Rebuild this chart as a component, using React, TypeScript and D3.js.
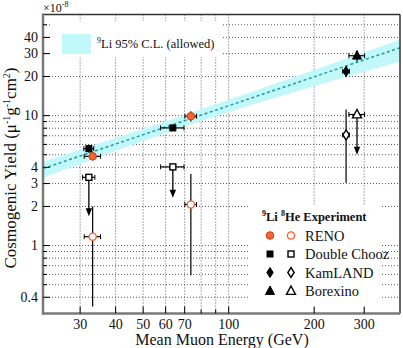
import React from 'react';
import * as d3 from 'd3';

// experiments, in legend order
const experiments = ['RENO', 'Double Chooz', 'KamLAND', 'Borexino'];

// 9Li yield points (x 1e-8 mu^-1 g^-1 cm^2)
const li9Exp = ['RENO', 'RENO', 'Double Chooz', 'Double Chooz', 'KamLAND', 'Borexino'];
const li9Energy = [33.2, 73.6, 32.2, 63.6, 259, 283];
const li9EnergyErr = [2.2, 3.5, 1.3, 6.0, 7, 18];
const li9Yield = [4.86, 9.9, 5.57, 8.04, 21.9, 28.9];
const li9YieldErr = [0.34, 0.9, 0.4, 0.45, 2.2, 2.8];

// 8He yield points, some are upper limits (arrow down to limitTip)
const he8Exp = ['RENO', 'RENO', 'Double Chooz', 'Double Chooz', 'KamLAND', 'Borexino'];
const he8Energy = [33.2, 73.6, 32.2, 63.6, 259, 283];
const he8EnergyErr = [2.2, 3.5, 1.6, 6.0, 7, 18];
const he8Yield = [1.17, 2.07, 3.35, 4.03, 7.1, 10.2];
const he8YieldErr = [0.83, 1.48, 0, 0, 4.05, 0];
const he8LimitTip = [null, null, 1.68, 2.33, null, 5.0];

// 9Li 95% C.L. band
const bandEnergy = [22.2, 65, 401];
const bandCenter = [3.91, 8.66, 33.3];
const bandLow = [3.33, 7.8, 26.1];
const bandHigh = [4.42, 9.6, 38.5];

// ticks
const xLabels = [30, 40, 50, 60, 70, 100, 200, 300];
const xGrid = [30, 40, 50, 60, 70, 80, 90, 100, 200, 300];
const yLabels = [0.4, 1, 2, 3, 4, 10, 20, 30, 40];
const yGrid = [0.4, 0.5, 0.6, 0.7, 0.8, 0.9, 1, 2, 3, 4, 5, 6, 7, 8, 9, 10, 20, 30, 40, 50];

const ORANGE = '#f26430';
const CYAN = '#c3f8fb';
const TEAL = '#1a9ea3';
const FONT = '"Liberation Serif", "DejaVu Serif", serif';

const left = 43, right = 400, top = 14.5, bottom = 313.5;

const marker = (exp, filled) => {
  const fill = filled ? (exp === 'RENO' ? ORANGE : '#000') : '#fff';
  const stroke = exp === 'RENO' ? (filled ? '#d04010' : ORANGE) : '#000';
  const sw = filled ? 1 : 1.4;
  if (exp === 'RENO') return <circle r={filled ? 3.8 : 3.6} fill={fill} stroke={stroke} strokeWidth={sw} />;
  if (exp === 'Double Chooz') return <rect x={-3} y={-3} width={6} height={6} fill={fill} stroke={stroke} strokeWidth={sw} />;
  if (exp === 'KamLAND') return <path d="M0,-5L3.2,0L0,5L-3.2,0Z" fill={fill} stroke={stroke} strokeWidth={sw} />;
  return <path d="M0,-5L4.5,3.4L-4.5,3.4Z" fill={fill} stroke={stroke} strokeWidth={sw} />;
};

const App = () => {
  const x = d3.scaleLog().domain([22.2, 401]).range([left, right]);
  const y = d3.scaleLog().domain([0.3, 60]).range([bottom, top]);

  const bandPts = bandEnergy.map((e, i) => ({ e, lo: bandLow[i], hi: bandHigh[i], c: bandCenter[i] }));
  const area = d3.area().x(d => x(d.e)).y0(d => y(d.lo)).y1(d => y(d.hi)).curve(d3.curveMonotoneX);
  const line = d3.line().x(d => x(d.e)).y(d => y(d.c)).curve(d3.curveMonotoneX);

  const errBars = (energy, eErr, val, vErr, i, key) => {
    const cx = x(energy[i]), cy = y(val[i]);
    const x0 = x(energy[i] - eErr[i]), x1 = x(energy[i] + eErr[i]);
    const out = [
      <line key={key + 'h'} x1={x0} x2={x1} y1={cy} y2={cy} stroke="#000" strokeWidth={1.2} />,
      <line key={key + 'hl'} x1={x0} x2={x0} y1={cy - 2.5} y2={cy + 2.5} stroke="#000" strokeWidth={1} />,
      <line key={key + 'hr'} x1={x1} x2={x1} y1={cy - 2.5} y2={cy + 2.5} stroke="#000" strokeWidth={1} />,
    ];
    if (vErr[i] > 0) {
      out.push(<line key={key + 'v'} x1={cx} x2={cx} y1={y(val[i] + vErr[i])} y2={y(val[i] - vErr[i])} stroke="#000" strokeWidth={1.2} />);
    }
    return out;
  };

  return (
    <svg width={403} height={348} style={{ position: 'absolute', left: 0, top: 0, fontFamily: FONT }}>
      <rect width={403} height={348} fill="#fff" />
      {/* grid */}
      {xGrid.map(v => (
        <line key={'gx' + v} x1={x(v)} x2={x(v)} y1={top} y2={bottom} stroke="#333" strokeWidth={0.8} strokeDasharray="1 2" />
      ))}
      {yGrid.map(v => (
        <line key={'gy' + v} x1={left} x2={right} y1={y(v)} y2={y(v)} stroke="#333" strokeWidth={0.8} strokeDasharray="1 2" />
      ))}
      {/* legend backgrounds */}
      <rect x={52} y={21} width={169} height={36} fill="#fff" />
      <rect x={250} y={205} width={132} height={102} fill="#fff" />

      {/* band */}
      <path d={area(bandPts)} fill={CYAN} />
      <path d={line(bandPts)} fill="none" stroke={TEAL} strokeWidth={1.5} strokeDasharray="3 2.5" />

      {/* 8He */}
      {he8Exp.map((exp, i) => {
        const cx = x(he8Energy[i]), cy = y(he8Yield[i]);
        const tip = he8LimitTip[i];
        return (
          <g key={'he' + i}>
            {errBars(he8Energy, he8EnergyErr, he8Yield, he8YieldErr, i, 'he' + i)}
            {tip != null && (
              <g>
                <line x1={cx} x2={cx} y1={cy} y2={y(tip) - 6} stroke="#000" strokeWidth={1.3} />
                <path d={`M${cx - 3.2},${y(tip) - 8}L${cx + 3.2},${y(tip) - 8}L${cx},${y(tip)}Z`} fill="#000" />
              </g>
            )}
            <g transform={`translate(${cx},${cy})`}>{marker(exp, false)}</g>
          </g>
        );
      })}

      {/* 9Li */}
      {li9Exp.map((exp, i) => (
        <g key={'li' + i}>
          {errBars(li9Energy, li9EnergyErr, li9Yield, li9YieldErr, i, 'li' + i)}
          <g transform={`translate(${x(li9Energy[i])},${y(li9Yield[i])})`}>{marker(exp, true)}</g>
        </g>
      ))}

      {/* frame */}
      <line x1={left} x2={right} y1={top} y2={top} stroke="#333" strokeWidth={1.5} />
      <line x1={right} x2={right} y1={top} y2={bottom} stroke="#333" strokeWidth={1.5} />
      <line x1={left} x2={left} y1={top - 1} y2={bottom + 1} stroke="#7a7a7a" strokeWidth={2.5} />
      <line x1={left - 1} x2={right} y1={bottom} y2={bottom} stroke="#7a7a7a" strokeWidth={2.5} />

      {/* ticks */}
      {xGrid.map(v => (
        <line key={'tx' + v} x1={x(v)} x2={x(v)} y1={bottom} y2={bottom - (xLabels.includes(v) ? 7 : 4)} stroke="#000" strokeWidth={1} />
      ))}
      {yGrid.map(v => (
        <line key={'ty' + v} x1={left} x2={left + (yLabels.includes(v) ? 7 : 4)} y1={y(v)} y2={y(v)} stroke="#000" strokeWidth={1} />
      ))}
      {xLabels.map(v => (
        <text key={'lx' + v} x={x(v)} y={329} fontSize={14} textAnchor="middle" fill="#111">{v}</text>
      ))}
      {yLabels.map(v => (
        <text key={'ly' + v} x={38} y={y(v) + 4.5} fontSize={14} textAnchor="end" fill="#111">{v}</text>
      ))}

      {/* exponent */}
      <text x={43} y={12} fontSize={12} fill="#111">
        ×10<tspan dy={-5} fontSize={8}>-8</tspan>
      </text>

      {/* axis titles */}
      <text x={222} y={345} fontSize={16} textAnchor="middle" fill="#111">Mean Muon Energy (GeV)</text>
      <text transform="translate(16,168) rotate(-90)" fontSize={17} textAnchor="middle" fill="#111">
        Cosmogenic Yield (μ<tspan dy={-6} fontSize={10}>-1</tspan>
        <tspan dy={6}>g</tspan><tspan dy={-6} fontSize={10}>-1</tspan>
        <tspan dy={6}>cm</tspan><tspan dy={-6} fontSize={10}>2</tspan><tspan dy={6}>)</tspan>
      </text>

      {/* band legend */}
      <rect x={62} y={34} width={29} height={20} fill={CYAN} />
      <text x={97} y={48} fontSize={12.5} fill="#111">
        <tspan dy={-5} fontSize={8}>9</tspan><tspan dy={5}>Li 95% C.L. (allowed)</tspan>
      </text>

      {/* experiment legend */}
      <text x={262} y={221} fontSize={12.5} fontWeight="bold" fill="#111">
        <tspan dy={-5} fontSize={8}>9</tspan><tspan dy={5}>Li </tspan>
        <tspan dy={-5} fontSize={8}>8</tspan><tspan dy={5}>He Experiment</tspan>
      </text>
      {experiments.map((exp, i) => {
        const ly = 235.5 + i * 18.5;
        return (
          <g key={'leg' + exp}>
            <g transform={`translate(270,${ly})`}>{marker(exp, true)}</g>
            <g transform={`translate(291,${ly})`}>{marker(exp, false)}</g>
            <text x={305} y={ly + 5} fontSize={14.5} fill="#111">{exp}</text>
          </g>
        );
      })}
    </svg>
  );
};

export default App;
